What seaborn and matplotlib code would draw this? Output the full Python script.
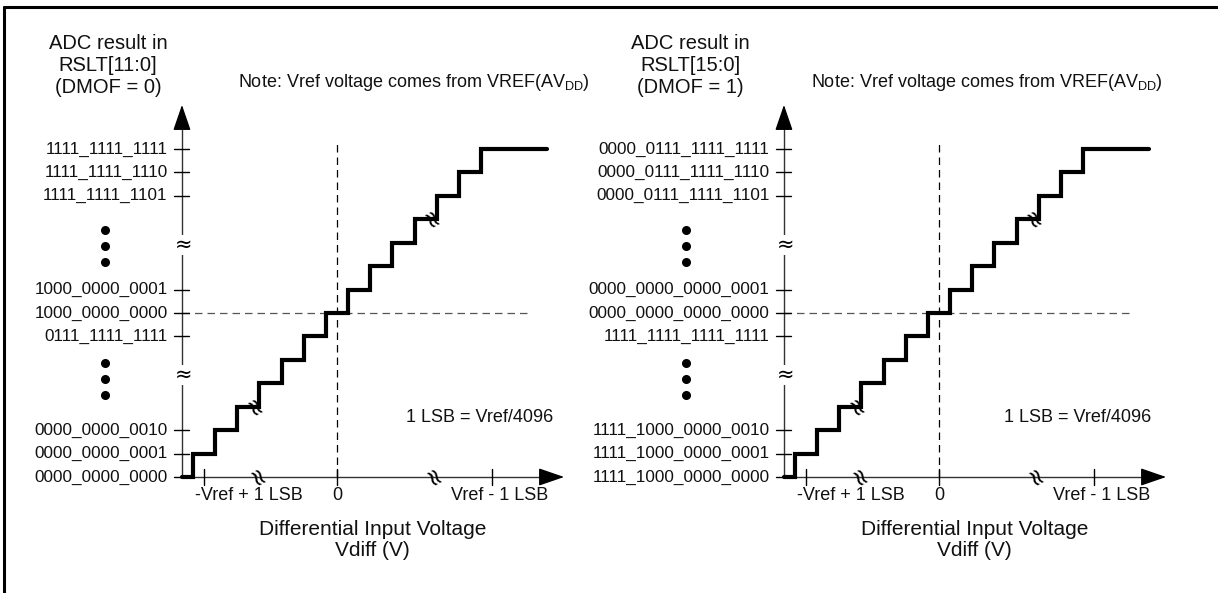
import numpy as np
import matplotlib
matplotlib.use("Agg")
import matplotlib.pyplot as plt
from matplotlib.lines import Line2D
import seaborn as sns

sns.set_theme(style="white")
plt.rcParams['font.family'] = ['Liberation Sans', 'DejaVu Sans']
plt.rcParams['mathtext.default'] = 'regular'

# staircase: x in LSB steps (0 = Vdiff 0), y = output code level
step_x = [-7.0, -6.5, -5.5, -4.5, -3.5, -2.5, -1.5, -0.5, 0.5, 1.5, 2.5, 3.5, 4.5, 5.5, 6.5, 9.5]
step_level = [0, 1, 2, 3, 4, 5, 6, 7, 8, 9, 10, 11, 12, 13, 14, 14]

tick_levels = [0, 1, 2, 6, 7, 8, 12, 13, 14]
codes_left = ["0000_0000_0000", "0000_0000_0001", "0000_0000_0010",
              "0111_1111_1111", "1000_0000_0000", "1000_0000_0001",
              "1111_1111_1101", "1111_1111_1110", "1111_1111_1111"]
codes_right = ["1111_1000_0000_0000", "1111_1000_0000_0001", "1111_1000_0000_0010",
               "1111_1111_1111_1111", "0000_0000_0000_0000", "0000_0000_0000_0001",
               "0000_0111_1111_1101", "0000_0111_1111_1110", "0000_0111_1111_1111"]
dot_levels = [3.5, 4.18, 4.87, 9.18, 9.86, 10.54]
ybreak_levels = [4.35, 9.9]
xbreak_pos = [-3.7, 4.25]
step_breaks = [(-3.85, 3), (4.15, 11)]

xtick_pos = [-6.0, 0.0, 7.0]
xtick_text = ["-Vref + 1 LSB", "0", "Vref - 1 LSB"]
xtick_text_pos = [-4.0, 0.0, 7.35]

titles = ["ADC result in\nRSLT[11:0]\n(DMOF = 0)", "ADC result in\nRSLT[15:0]\n(DMOF = 1)"]
note = "Note: Vref voltage comes from VREF(AV$_{DD}$)"

W, H = 1218, 593
PX_X, PX_Y = 22.15, 23.43   # pixels per LSB / per code level
ZERO_Y = 477

fig = plt.figure(figsize=(W / 100, H / 100), dpi=100)
fig.patch.set_facecolor("white")


def panel(rect, zero_px, left_px, right_px, codes, title, title_x, note_x, dot_x, lsb_x):
    ax = fig.add_axes(rect)
    ax.set_axis_off()
    ax.set_xlim((left_px - zero_px) / PX_X, (right_px - zero_px) / PX_X)
    ax.set_ylim((ZERO_Y - H) / PX_Y, ZERO_Y / PX_Y)

    # dashed guide lines
    ax.plot([0, 0], [0, 14.4], color="black", lw=0.9, ls=(0, (6, 4)))
    ax.plot([-7, 8.65], [7, 7], color="#555555", lw=0.9, ls=(0, (6, 4)))

    # axes with arrows
    ax.plot([-7, -7], [0, 15.2], color="#333333", lw=1.0)
    ax.plot([-7, 9.5], [0, 0], color="#333333", lw=1.0)
    ax.annotate("", xy=(-7, 16.0), xytext=(-7, 14.9),
                arrowprops=dict(arrowstyle="-|>,head_length=1.6,head_width=0.55",
                                color="black", lw=1.0, mutation_scale=10))
    ax.annotate("", xy=(10.38, 0), xytext=(9.3, 0),
                arrowprops=dict(arrowstyle="-|>,head_length=1.6,head_width=0.55",
                                color="black", lw=1.0, mutation_scale=10))

    # staircase
    sns.lineplot(x=step_x, y=step_level, drawstyle="steps-post", color="black",
                 lw=3.0, estimator=None, ax=ax, solid_joinstyle="miter")

    # y ticks and labels
    for lv, lab in zip(tick_levels, codes):
        ax.plot([-7.34, -6.66], [lv, lv], color="black", lw=1.0)
        ax.text(-7.65, lv, lab, ha="right", va="center", fontsize=12.3, color="#111111")
    ax.plot([dot_x] * len(dot_levels), dot_levels, "o", color="black", ms=5.5)
    for lv in ybreak_levels:
        ax.text(-6.95, lv, "\u2248", ha="center", va="center", fontsize=15,
                family="DejaVu Sans", color="black",
                bbox=dict(fc="white", ec="none", pad=0.1))

    # x ticks and labels
    for xp in xtick_pos:
        ax.plot([xp, xp], [-0.33, 0.33], color="black", lw=1.0)
    for xp, lab in zip(xtick_text_pos, xtick_text):
        ax.text(xp, -0.8, lab, ha="center", va="center", fontsize=13, color="#111111")
    for xp in xbreak_pos:
        ax.text(xp, -0.1, "\u2248", ha="center", va="center", fontsize=17, rotation=-60,
                family="DejaVu Sans", color="black")
    for xp, lv in step_breaks:
        ax.text(xp, lv - 0.1, "\u2248", ha="center", va="center", fontsize=17, rotation=-60,
                family="DejaVu Sans", color="black")

    ax.text(title_x, 17.55, title, ha="center", va="center", fontsize=14.5,
            linespacing=1.2, color="#111111")
    ax.text(note_x, 16.82, note, ha="left", va="center", fontsize=13, color="#111111")
    ax.text(lsb_x, 2.52, "1 LSB = Vref/4096", ha="center", va="center",
            fontsize=13, color="#111111")
    ax.text(1.6, -2.69, "Differential Input Voltage\nVdiff (V)", ha="center",
            va="center", fontsize=15, linespacing=1.15, color="#111111")
    return ax


panel([0, 0, 609 / W, 1], 337, 0, 609, codes_left, titles[0],
      -10.34, -4.47, -10.47, 6.46)
panel([609 / W, 0, 609 / W, 1], 939, 609, 1218, codes_right, titles[1],
      -11.24, -5.78, -11.4, 6.28)

# outer frame (top and left edges)
fig.add_artist(Line2D([4 / W, 1], [1 - 7 / H, 1 - 7 / H], color="black", lw=2.2,
                      transform=fig.transFigure))
fig.add_artist(Line2D([4 / W, 4 / W], [0, 1 - 7 / H], color="black", lw=2.2,
                      transform=fig.transFigure))

fig.savefig("out.png", dpi=100)
